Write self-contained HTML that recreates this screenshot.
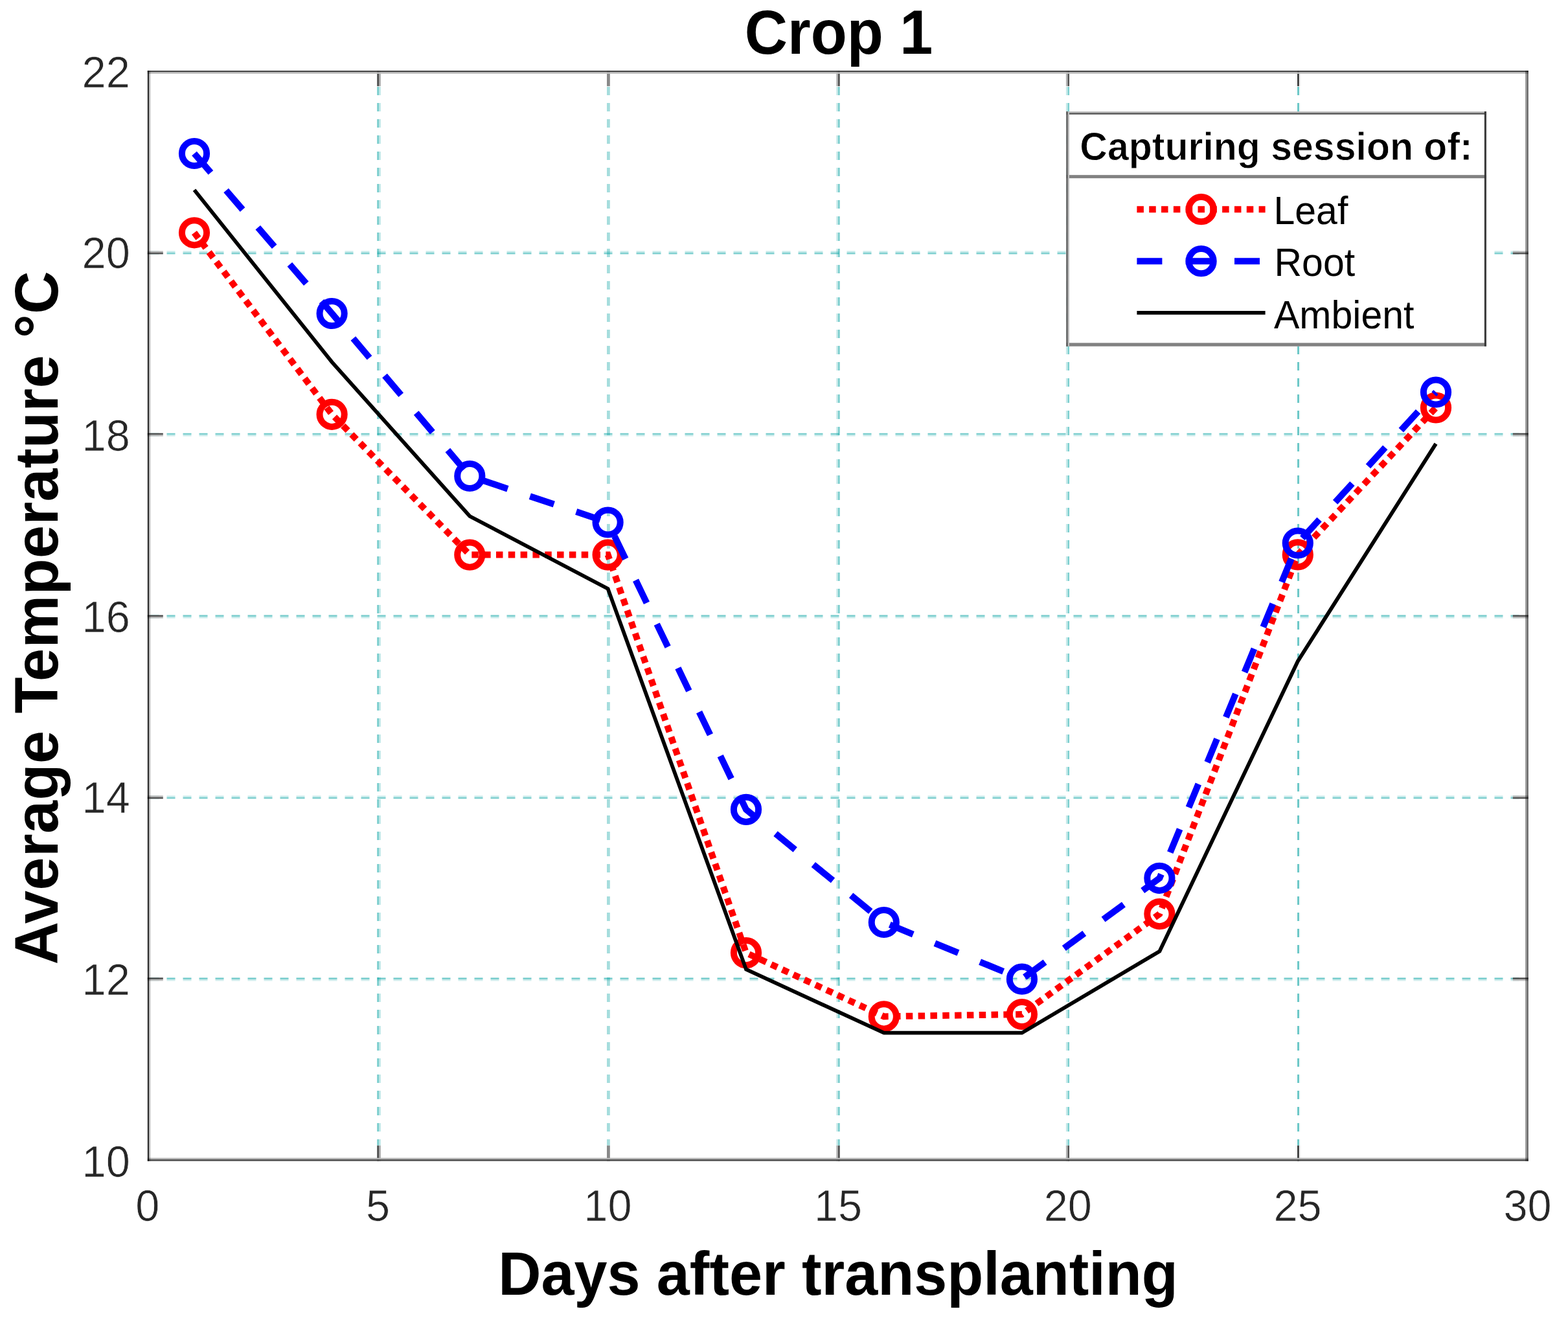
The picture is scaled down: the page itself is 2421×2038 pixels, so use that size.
<!DOCTYPE html>
<html lang="en"><head><meta charset="utf-8"><title>Crop 1 - Average Temperature</title>
<style>
html,body{margin:0;padding:0;background:#fff;}
html{width:2421px;height:2038px;overflow:hidden;}
body{width:2421px;height:2038px;overflow:hidden;font-family:"Liberation Sans", sans-serif;}
svg{display:block;}
text{font-family:"Liberation Sans", sans-serif;}
.tick{font-size:66.7px;fill:#262626;stroke:#fff;stroke-width:0.7px;}
.lbl{font-size:91.7px;font-weight:bold;fill:#000;}
.ylbl{letter-spacing:0.46px;}
.ttl{font-size:91.7px;font-weight:bold;fill:#000;}
.leg{font-size:59px;fill:#000;}
.legt{font-size:59px;font-weight:bold;fill:#000;stroke:#fff;stroke-width:0.8px;}
</style></head><body>
<svg width="2421" height="2038" viewBox="0 0 2421 2038" role="img" aria-label="Crop 1: average temperature versus days after transplanting">
<rect x="0" y="0" width="2421" height="2038" fill="#ffffff"/>
<g id="grid" stroke="#00a0a0" fill="none" stroke-dasharray="13 12">
<line x1="583.6" y1="109" x2="583.6" y2="1789.6" stroke-width="2.8" stroke-opacity="0.518"/>
<line x1="586.4" y1="109" x2="586.4" y2="1789.6" stroke-width="2.8" stroke-opacity="0.256"/>
<line x1="939.4" y1="109" x2="939.4" y2="1789.6" stroke-width="4.8" stroke-opacity="0.352"/>
<line x1="1292.6" y1="109" x2="1292.6" y2="1789.6" stroke-width="2.6" stroke-opacity="0.224"/>
<line x1="1295.3" y1="109" x2="1295.3" y2="1789.6" stroke-width="2.8" stroke-opacity="0.512"/>
<line x1="1647.2" y1="109" x2="1647.2" y2="1789.6" stroke-width="2.6" stroke-opacity="0.224"/>
<line x1="1649.8" y1="109" x2="1649.8" y2="1789.6" stroke-width="2.5" stroke-opacity="0.512"/>
<line x1="2002" y1="109" x2="2002" y2="1789.6" stroke-width="2.4" stroke-opacity="0.051"/>
<line x1="2004.5" y1="109" x2="2004.5" y2="1789.6" stroke-width="2.6" stroke-opacity="0.640"/>
<line x1="2007" y1="109" x2="2007" y2="1789.6" stroke-width="2.4" stroke-opacity="0.051"/>
<line x1="232.5" y1="1510.7" x2="2356.8" y2="1510.7" stroke-width="2.5" stroke-opacity="0.531"/>
<line x1="232.5" y1="1513.2" x2="2356.8" y2="1513.2" stroke-width="2.5" stroke-opacity="0.198"/>
<line x1="232.5" y1="1229.7" x2="2356.8" y2="1229.7" stroke-width="2.5" stroke-opacity="0.224"/>
<line x1="232.5" y1="1232.1" x2="2356.8" y2="1232.1" stroke-width="2.4" stroke-opacity="0.512"/>
<line x1="232.5" y1="950.8" x2="2356.8" y2="950.8" stroke-width="2.4" stroke-opacity="0.512"/>
<line x1="232.5" y1="953.2" x2="2356.8" y2="953.2" stroke-width="2.5" stroke-opacity="0.224"/>
<line x1="232.5" y1="669.9" x2="2356.8" y2="669.9" stroke-width="2.4" stroke-opacity="0.512"/>
<line x1="232.5" y1="672.3" x2="2356.8" y2="672.3" stroke-width="2.4" stroke-opacity="0.224"/>
<line x1="232.5" y1="388.8" x2="2356.8" y2="388.8" stroke-width="2.4" stroke-opacity="0.224"/>
<line x1="232.5" y1="391.2" x2="2356.8" y2="391.2" stroke-width="2.5" stroke-opacity="0.493"/>
</g>
<g id="ticks">
<rect x="582.2" y="109.1" width="2.8" height="24" fill="#fff"/>
<rect x="582.2" y="1768.6" width="2.8" height="24" fill="#fff"/>
<rect x="585" y="109.1" width="2.8" height="24" fill="#fff"/>
<rect x="585" y="1768.6" width="2.8" height="24" fill="#fff"/>
<rect x="582.2" y="109.1" width="2.8" height="24" fill="#4f4f4f"/>
<rect x="582.2" y="1768.6" width="2.8" height="24" fill="#4f4f4f"/>
<rect x="585" y="109.1" width="2.8" height="24" fill="#a8a8a8"/>
<rect x="585" y="1768.6" width="2.8" height="24" fill="#a8a8a8"/>
<rect x="937" y="109.1" width="4.8" height="24" fill="#fff"/>
<rect x="937" y="1768.6" width="4.8" height="24" fill="#fff"/>
<rect x="937" y="109.1" width="4.8" height="24" fill="#888888"/>
<rect x="937" y="1768.6" width="4.8" height="24" fill="#888888"/>
<rect x="1291.3" y="109.1" width="2.6" height="24" fill="#fff"/>
<rect x="1291.3" y="1768.6" width="2.6" height="24" fill="#fff"/>
<rect x="1293.9" y="109.1" width="2.8" height="24" fill="#fff"/>
<rect x="1293.9" y="1768.6" width="2.8" height="24" fill="#fff"/>
<rect x="1291.3" y="109.1" width="2.6" height="24" fill="#b3b3b3"/>
<rect x="1291.3" y="1768.6" width="2.6" height="24" fill="#b3b3b3"/>
<rect x="1293.9" y="109.1" width="2.8" height="24" fill="#515151"/>
<rect x="1293.9" y="1768.6" width="2.8" height="24" fill="#515151"/>
<rect x="1645.9" y="109.1" width="2.6" height="24" fill="#fff"/>
<rect x="1645.9" y="1768.6" width="2.6" height="24" fill="#fff"/>
<rect x="1648.5" y="109.1" width="2.5" height="24" fill="#fff"/>
<rect x="1648.5" y="1768.6" width="2.5" height="24" fill="#fff"/>
<rect x="1645.9" y="109.1" width="2.6" height="24" fill="#b3b3b3"/>
<rect x="1645.9" y="1768.6" width="2.6" height="24" fill="#b3b3b3"/>
<rect x="1648.5" y="109.1" width="2.5" height="24" fill="#515151"/>
<rect x="1648.5" y="1768.6" width="2.5" height="24" fill="#515151"/>
<rect x="2000.8" y="109.1" width="2.4" height="24" fill="#fff"/>
<rect x="2000.8" y="1768.6" width="2.4" height="24" fill="#fff"/>
<rect x="2003.2" y="109.1" width="2.6" height="24" fill="#fff"/>
<rect x="2003.2" y="1768.6" width="2.6" height="24" fill="#fff"/>
<rect x="2005.8" y="109.1" width="2.4" height="24" fill="#fff"/>
<rect x="2005.8" y="1768.6" width="2.4" height="24" fill="#fff"/>
<rect x="2000.8" y="109.1" width="2.4" height="24" fill="#eeeeee"/>
<rect x="2000.8" y="1768.6" width="2.4" height="24" fill="#eeeeee"/>
<rect x="2003.2" y="109.1" width="2.6" height="24" fill="#262626"/>
<rect x="2003.2" y="1768.6" width="2.6" height="24" fill="#262626"/>
<rect x="2005.8" y="109.1" width="2.4" height="24" fill="#eeeeee"/>
<rect x="2005.8" y="1768.6" width="2.4" height="24" fill="#eeeeee"/>
<rect x="227.8" y="1509.4" width="24" height="2.5" fill="#4b4b4b"/>
<rect x="2335.8" y="1509.4" width="24" height="2.5" fill="#4b4b4b"/>
<rect x="227.8" y="1511.9" width="24" height="2.5" fill="#bcbcbc"/>
<rect x="2335.8" y="1511.9" width="24" height="2.5" fill="#bcbcbc"/>
<rect x="227.8" y="1228.4" width="24" height="2.5" fill="#b3b3b3"/>
<rect x="2335.8" y="1228.4" width="24" height="2.5" fill="#b3b3b3"/>
<rect x="227.8" y="1230.9" width="24" height="2.4" fill="#515151"/>
<rect x="2335.8" y="1230.9" width="24" height="2.4" fill="#515151"/>
<rect x="227.8" y="949.6" width="24" height="2.4" fill="#515151"/>
<rect x="2335.8" y="949.6" width="24" height="2.4" fill="#515151"/>
<rect x="227.8" y="952" width="24" height="2.5" fill="#b3b3b3"/>
<rect x="2335.8" y="952" width="24" height="2.5" fill="#b3b3b3"/>
<rect x="227.8" y="668.7" width="24" height="2.4" fill="#515151"/>
<rect x="2335.8" y="668.7" width="24" height="2.4" fill="#515151"/>
<rect x="227.8" y="671.1" width="24" height="2.4" fill="#b3b3b3"/>
<rect x="2335.8" y="671.1" width="24" height="2.4" fill="#b3b3b3"/>
<rect x="227.8" y="387.6" width="24" height="2.4" fill="#b3b3b3"/>
<rect x="2335.8" y="387.6" width="24" height="2.4" fill="#b3b3b3"/>
<rect x="227.8" y="390" width="24" height="2.5" fill="#585858"/>
<rect x="2335.8" y="390" width="24" height="2.5" fill="#585858"/>
</g>
<g id="axes">
<rect x="227.8" y="109.1" width="2132" height="2.4" fill="#404040"/>
<rect x="227.8" y="111.5" width="2132" height="2.4" fill="#c0c0c0"/>
<rect x="227.8" y="1787.7" width="2132" height="2.4" fill="#b3b3b3"/>
<rect x="227.8" y="1790.1" width="2132" height="2.5" fill="#4b4b4b"/>
<rect x="227.8" y="109.1" width="2.4" height="1683.5" fill="#2f2f2f" style="mix-blend-mode:multiply"/>
<rect x="230.2" y="109.1" width="2.4" height="1683.5" fill="#cdcdcd" style="mix-blend-mode:multiply"/>
<rect x="2355" y="109.1" width="2.4" height="1683.5" fill="#a0a0a0" style="mix-blend-mode:multiply"/>
<rect x="2357.4" y="109.1" width="2.4" height="1683.5" fill="#636363" style="mix-blend-mode:multiply"/>
</g>
<g id="series" fill="none" stroke-linejoin="miter" stroke-linecap="butt">
<g id="leaf" stroke="#ff0000" stroke-width="10.0">
<polyline points="300,359.3 512.6,639.8 725.3,856.6 938.6,856.6 1152,1471.1 1364.8,1569.4 1577.9,1566 1790.4,1411.1 2003.8,856.4 2217,629.5" stroke-dasharray="10.5 8.32"/>
<circle cx="300" cy="359.3" r="19.1"/>
<circle cx="512.6" cy="639.8" r="19.1"/>
<circle cx="725.3" cy="856.6" r="19.1"/>
<circle cx="938.6" cy="856.6" r="19.1"/>
<circle cx="1152" cy="1471.1" r="19.1"/>
<circle cx="1364.8" cy="1569.4" r="19.1"/>
<circle cx="1577.9" cy="1566" r="19.1"/>
<circle cx="1790.4" cy="1411.1" r="19.1"/>
<circle cx="2003.8" cy="856.4" r="19.1"/>
<circle cx="2217" cy="629.5" r="19.1"/>
</g>
<g id="root" stroke="#0000ff" stroke-width="10.0">
<polyline points="300,237 512.6,484 725.3,735 938.6,806.5 1152,1249.8 1364.8,1424 1577.9,1511.7 1790.4,1355.8 2003.8,838.5 2217,605.5" stroke-dasharray="39.0 36.3"/>
<circle cx="300" cy="237" r="19.1"/>
<circle cx="512.6" cy="484" r="19.1"/>
<circle cx="725.3" cy="735" r="19.1"/>
<circle cx="938.6" cy="806.5" r="19.1"/>
<circle cx="1152" cy="1249.8" r="19.1"/>
<circle cx="1364.8" cy="1424" r="19.1"/>
<circle cx="1577.9" cy="1511.7" r="19.1"/>
<circle cx="1790.4" cy="1355.8" r="19.1"/>
<circle cx="2003.8" cy="838.5" r="19.1"/>
<circle cx="2217" cy="605.5" r="19.1"/>
</g>
<polyline id="ambient" points="300,293.2 512.6,559.1 725.3,797 938.6,909 1152,1496.7 1364.8,1594.7 1577.9,1594.7 1790.4,1468.7 2003.8,1020.9 2217,685.1" stroke="#000000" stroke-width="5.8"/>
</g>
<g id="legend">
<rect x="1646.4" y="172.0" width="648.5" height="362.7" fill="#ffffff"/>
<rect x="1646.4" y="172" width="648.5" height="2.3" fill="#bebebe"/>
<rect x="1646.4" y="174.3" width="648.5" height="2.4" fill="#515151"/>
<rect x="1646.4" y="270.2" width="648.5" height="5" fill="#818181"/>
<rect x="1646.4" y="529.4" width="648.5" height="5.3" fill="#818181"/>
<rect x="1646.3" y="172" width="2.5" height="362.7" fill="#565656"/>
<rect x="1648.8" y="172" width="2.2" height="362.7" fill="#bebebe"/>
<rect x="2291.9" y="172" width="3" height="362.7" fill="#353535"/>
<rect x="2294.9" y="172" width="2.1" height="362.7" fill="#eeeeee"/>
<text class="legt" text-anchor="start" transform="translate(1667.3 247.2) scale(1 1.04)">Capturing session of:</text>
<line x1="1755.4" y1="323.2" x2="1953.6" y2="323.2" stroke="#ff0000" stroke-width="10.0" stroke-dasharray="10.5 8.32"/>
<circle cx="1854.6" cy="323.2" r="19.1" fill="none" stroke="#ff0000" stroke-width="10.0"/>
<line x1="1755.4" y1="403.2" x2="1953.6" y2="403.2" stroke="#0000ff" stroke-width="10.0" stroke-dasharray="39.0 36.3"/>
<circle cx="1854.6" cy="403.2" r="19.1" fill="none" stroke="#0000ff" stroke-width="10.0"/>
<line x1="1755.4" y1="482.9" x2="1953.6" y2="482.9" stroke="#000000" stroke-width="5.8"/>
<text class="leg" text-anchor="start" transform="translate(1966.5 346.2) scale(1 1.04)">Leaf</text>
<text class="leg" text-anchor="start" transform="translate(1967.5 425.6) scale(1 1.04)">Root</text>
<text class="leg" text-anchor="start" transform="translate(1967 506.6) scale(1 1.04)">Ambient</text>
</g>
<g id="xticks">
<text class="tick" text-anchor="middle" transform="translate(227.8 1884.8) scale(1 1.03)">0</text>
<text class="tick" text-anchor="middle" transform="translate(583.6 1884.8) scale(1 1.03)">5</text>
<text class="tick" text-anchor="middle" transform="translate(938.4 1884.8) scale(1 1.03)">10</text>
<text class="tick" text-anchor="middle" transform="translate(1294.1 1884.8) scale(1 1.03)">15</text>
<text class="tick" text-anchor="middle" transform="translate(1648.8 1884.8) scale(1 1.03)">20</text>
<text class="tick" text-anchor="middle" transform="translate(2003.6 1884.8) scale(1 1.03)">25</text>
<text class="tick" text-anchor="middle" transform="translate(2358.6 1884.8) scale(1 1.03)">30</text>
</g>
<g id="yticks">
<text class="tick" text-anchor="end" transform="translate(200.8 1817.4) scale(1 1.03)">10</text>
<text class="tick" text-anchor="end" transform="translate(200.8 1536.2) scale(1 1.03)">12</text>
<text class="tick" text-anchor="end" transform="translate(200.8 1254.6) scale(1 1.03)">14</text>
<text class="tick" text-anchor="end" transform="translate(200.8 976.4) scale(1 1.03)">16</text>
<text class="tick" text-anchor="end" transform="translate(200.8 695.6) scale(1 1.03)">18</text>
<text class="tick" text-anchor="end" transform="translate(200.8 414) scale(1 1.03)">20</text>
<text class="tick" text-anchor="end" transform="translate(200.8 135.4) scale(1 1.03)">22</text>
</g>
<text class="ttl" text-anchor="middle" transform="translate(1295 83.2) scale(1 1.05)">Crop 1</text>
<text class="lbl" text-anchor="middle" transform="translate(1294 1999.3) scale(1 1.04)">Days after transplanting</text>
<text class="lbl ylbl" text-anchor="middle" transform="translate(89 953.7) rotate(-90) scale(1 1.04)">Average Temperature °C</text>
</svg>
</body></html>
